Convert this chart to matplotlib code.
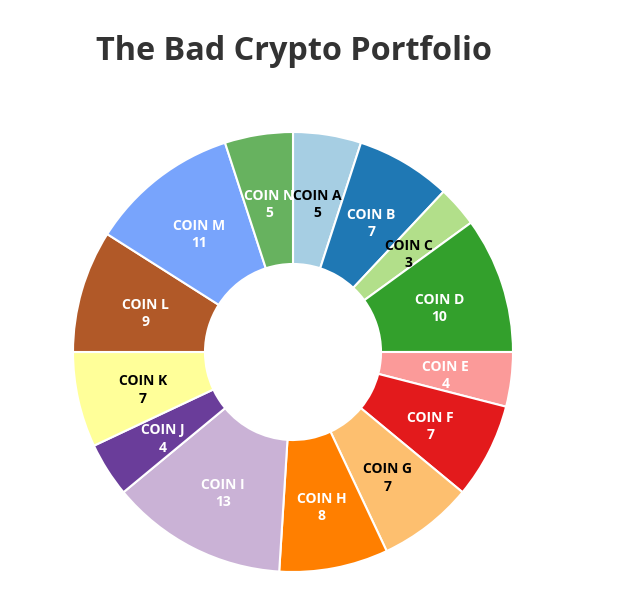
import numpy as np
import matplotlib.pyplot as plt

# Portfolio data
coins = ["COIN A", "COIN B", "COIN C", "COIN D", "COIN E", "COIN F", "COIN G",
         "COIN H", "COIN I", "COIN J", "COIN K", "COIN L", "COIN M", "COIN N"]
values = [5, 7, 3, 10, 4, 7, 7, 8, 13, 4, 7, 9, 11, 5]
colors = ["#a6cee3", "#1f78b4", "#b2df8a", "#33a02c", "#fb9a99", "#e31a1c", "#fdbf6f",
          "#ff7f00", "#cab2d6", "#6a3d9a", "#ffff99", "#b15928", "#78a4fc", "#67b25f"]
label_colors = ["black", "white", "black", "white", "white", "white", "black",
                "white", "white", "white", "black", "white", "white", "white"]

W, H = 628, 602
fig = plt.figure(figsize=(W / 100, H / 100), dpi=100)
fig.patch.set_facecolor("white")

# Place the donut in pixel coords: centre (293, 352), radius 220
cx, cy, r = 293, 352, 220
ax = fig.add_axes([(cx - r) / W, (H - cy - r) / H, 2 * r / W, 2 * r / H])

wedges, _ = ax.pie(values, colors=colors, startangle=90, counterclock=False, radius=1,
                   wedgeprops=dict(width=0.6, edgecolor="white", linewidth=1.5))
ax.set_xlim(-1, 1)
ax.set_ylim(-1, 1)
ax.set_aspect("equal")
ax.axis("off")

# labels sit at mid-ring, nudged a little down like the original
for w, name, v, tc in zip(wedges, coins, values, label_colors):
    ang = np.radians((w.theta1 + w.theta2) / 2)
    x, y = 0.7 * np.cos(ang), 0.7 * np.sin(ang) - 0.02
    ax.text(x, y, f"{name}\n{v}", ha="center", va="center", color=tc,
            fontsize=10, fontweight="bold", family="Open Sans", linespacing=1.3)

fig.text(96 / W, 1 - 52 / H, "The Bad Crypto Portfolio", ha="left", va="center",
         fontsize=23.3, fontweight="bold", family="Open Sans", color="#333333")

fig.savefig("out.png", dpi=100)
